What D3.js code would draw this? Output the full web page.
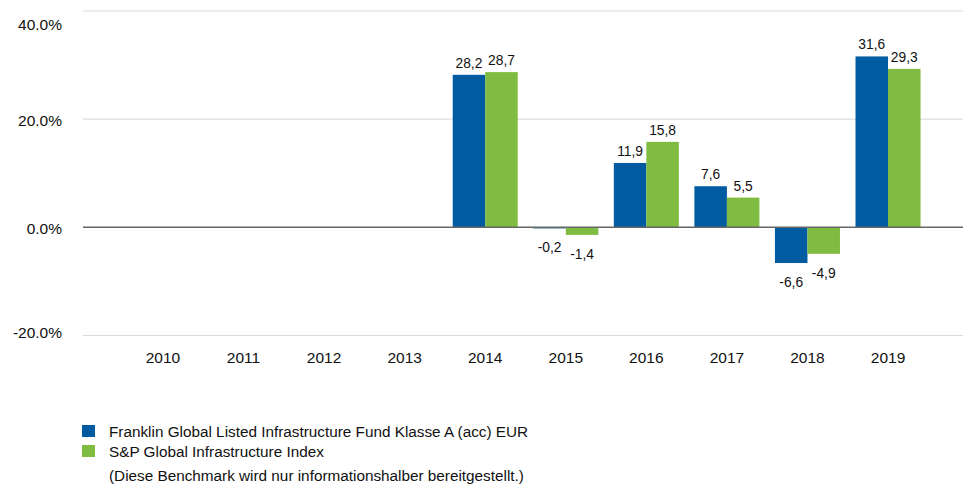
<!DOCTYPE html>
<html>
<head>
<meta charset="utf-8">
<script src="https://cdn.jsdelivr.net/npm/d3@7"></script>
<style>
  html, body { margin: 0; padding: 0; background: #fff; }
  svg { display: block; font-family: "Liberation Sans", Arial, Helvetica, sans-serif; }
</style>
</head>
<body>
<svg id="chart" width="963" height="488"></svg>
<script>
// Calendar-year performance, in percent
const years = ["2010", "2011", "2012", "2013", "2014", "2015", "2016", "2017", "2018", "2019"];
const fundValues = [null, null, null, null, 28.2, -0.2, 11.9, 7.6, -6.6, 31.6];
const indexValues = [null, null, null, null, 28.7, -1.4, 15.8, 5.5, -4.9, 29.3];
const seriesNames = [
  "Franklin Global Listed Infrastructure Fund Klasse A (acc) EUR",
  "S&P Global Infrastructure Index"
];
const seriesColors = ["#005BA0", "#80BC41"];
const yTicks = [-20, 0, 20, 40];
const footnote = "(Diese Benchmark wird nur informationshalber bereitgestellt.)";

const svg = d3.select("#chart");

// Plain hyphen as minus sign, comma decimal for value labels
const locPct = d3.formatLocale({ decimal: ".", thousands: ",", grouping: [3], currency: ["", ""], minus: "-" });
const locVal = d3.formatLocale({ decimal: ",", thousands: ".", grouping: [3], currency: ["", ""], minus: "-" });
const fmtPct = d => locPct.format(".1f")(d) + "%";
const fmtVal = locVal.format(".1f");

const y = d3.scaleLinear().domain([-20, 40]).range([335.5, 11]);
const x = d3.scaleBand().domain(years).range([122.7, 928.3])
  .paddingInner(0.193).paddingOuter(0.0965);
const xs = d3.scaleBand().domain([0, 1]).range([0, x.bandwidth()]);

const gridLeft = 83, gridRight = 963;

// Horizontal gridlines
svg.append("g").selectAll("line").data(yTicks.filter(d => d !== 0)).join("line")
  .attr("x1", gridLeft).attr("x2", gridRight)
  .attr("y1", d => y(d)).attr("y2", d => y(d))
  .attr("stroke", "#dcdcdc").attr("stroke-width", 1.2);

// Y tick labels (kept inside the drawing area at the extremes)
svg.append("g").selectAll("text").data(yTicks).join("text")
  .attr("x", 62)
  .attr("y", d => Math.min(Math.max(y(d) + 1.5, 24), 332))
  .attr("dy", "0.36em")
  .attr("text-anchor", "end")
  .attr("font-size", 15.5)
  .attr("fill", "#111")
  .text(fmtPct);

// Bars
const rows = years.map((yr, i) => ({ yr, vals: [fundValues[i], indexValues[i]] }));
const groups = svg.append("g").selectAll("g").data(rows).join("g")
  .attr("transform", d => `translate(${x(d.yr)},0)`);

const cells = groups.selectAll("g").data(d => d.vals.map((v, k) => ({ v, k })).filter(c => c.v !== null))
  .join("g");

cells.append("rect")
  .attr("x", c => xs(c.k))
  .attr("width", xs.bandwidth())
  .attr("y", c => y(Math.max(0, c.v)))
  .attr("height", c => Math.abs(y(c.v) - y(0)))
  .attr("fill", c => seriesColors[c.k]);

cells.append("text")
  .attr("x", c => xs(c.k) + xs.bandwidth() / 2)
  .attr("y", c => c.v >= 0 ? y(c.v) - 7 : y(c.v) + 24)
  .attr("text-anchor", "middle")
  .attr("font-size", 13.8)
  .attr("fill", "#111")
  .text(c => fmtVal(c.v));

// Zero line
svg.append("line")
  .attr("x1", gridLeft).attr("x2", gridRight)
  .attr("y1", y(0)).attr("y2", y(0))
  .attr("stroke", "#666").attr("stroke-width", 1.5);

// X tick labels
svg.append("g").selectAll("text").data(years).join("text")
  .attr("x", d => x(d) + x.bandwidth() / 2)
  .attr("y", 363)
  .attr("text-anchor", "middle")
  .attr("font-size", 15.5)
  .attr("fill", "#111")
  .text(d => d);

// Legend
const legend = svg.append("g").attr("transform", "translate(82,425)");
const items = legend.selectAll("g").data(seriesNames).join("g")
  .attr("transform", (d, i) => `translate(0,${i * 20})`);
items.append("rect").attr("width", 13).attr("height", 12)
  .attr("fill", (d, i) => seriesColors[i]);
items.append("text")
  .attr("x", 27).attr("y", 11.5)
  .attr("font-size", 15.3)
  .attr("fill", "#111")
  .text(d => d);

svg.append("text")
  .attr("x", 109).attr("y", 481)
  .attr("font-size", 15.3)
  .attr("fill", "#111")
  .text(footnote);
</script>
</body>
</html>
